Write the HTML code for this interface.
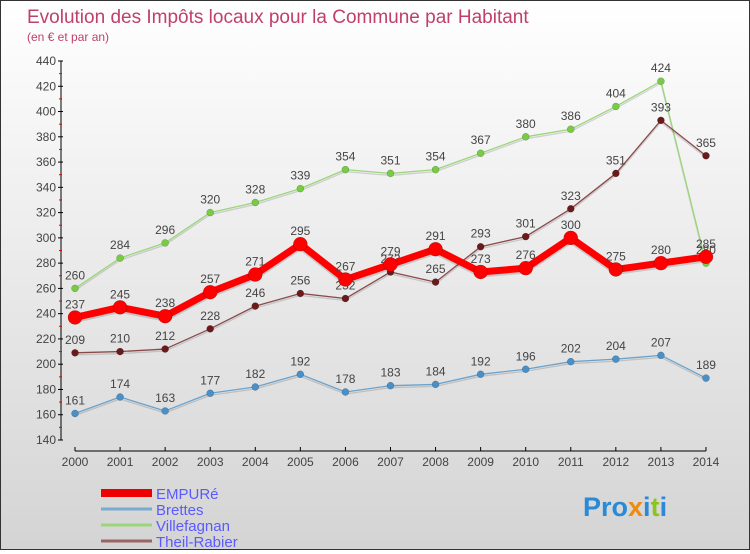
<!DOCTYPE html>
<html><head><meta charset="utf-8"><style>
body{margin:0;width:750px;height:550px;overflow:hidden;font-family:"Liberation Sans",sans-serif}
#c{position:absolute;left:0;top:0;width:748px;height:548px;border:1px solid #333;background:linear-gradient(#fff,#d4d4d4)}
</style></head><body>
<div id="c">
<svg id="s" width="748" height="548" xmlns="http://www.w3.org/2000/svg"></svg>
</div>
<script>
const years=[2000,2001,2002,2003,2004,2005,2006,2007,2008,2009,2010,2011,2012,2013,2014];
const empure=[237,245,238,257,271,295,267,279,291,273,276,300,275,280,285];
const brettes=[161,174,163,177,182,192,178,183,184,192,196,202,204,207,189];
const villefagnan=[260,284,296,320,328,339,354,351,354,367,380,386,404,424,280];
const theil=[209,210,212,228,246,256,252,273,265,293,301,323,351,393,365];
const yTicks=[140,160,180,200,220,240,260,280,300,320,340,360,380,400,420,440];
const NS="http://www.w3.org/2000/svg";
const s=document.getElementById('s');
const X=i=>74+i*45.07;
const Y=v=>439-(v-140)*(379/300);
function el(t,a,p){const e=document.createElementNS(NS,t);for(const k in a)e.setAttribute(k,a[k]);(p||s).appendChild(e);return e;}
function tx(x,y,str,a){const e=el('text',Object.assign({x:x,y:y},a));e.textContent=str;return e;}
let t=tx(26,22,'Evolution des Impôts locaux pour la Commune par Habitant',{fill:'#c0406a','font-size':19});

t=tx(26,40,'(en € et par an)',{fill:'#c0406a','font-size':12});

// y axis
let ax=el('line',{x1:60,y1:Y(440),x2:60,y2:Y(140),stroke:'#000'});

yTicks.forEach((v,i)=>{el('line',{x1:57,x2:62,y1:Y(v),y2:Y(v),stroke:'#000'});
 if(i<yTicks.length-1)el('line',{x1:58,x2:61,y1:Y(v+10),y2:Y(v+10),stroke:'#e00'});
 const l=tx(55,Y(v)+4,v,{fill:'#444','font-size':12,'text-anchor':'end'});
 });
ax=el('line',{x1:X(0),y1:450,x2:X(14),y2:450,stroke:'#000'});

years.forEach((y,i)=>{el('line',{x1:X(i),x2:X(i),y1:446,y2:450,stroke:'#000'});
 const l=tx(X(i),465,y,{fill:'#444','font-size':12,'text-anchor':'middle'});
 });
function series(d,col,dot,w,r,name){
 const g=el('g',{});
 el('polyline',{points:d.map((v,i)=>X(i)+','+(Y(v)+2)).join(' '),fill:'none',stroke:'rgba(0,0,0,0.15)','stroke-width':w},g);
 el('polyline',{points:d.map((v,i)=>X(i)+','+Y(v)).join(' '),fill:'none',stroke:col,'stroke-width':w,'stroke-linejoin':'round'},g);
 d.forEach((v,i)=>{const c=el('circle',{cx:X(i),cy:Y(v),r:r,fill:dot,stroke:'rgba(0,0,0,0.3)','stroke-width':0.5},g);
  
  const l=tx(X(i),Y(v)-9,v,{fill:'#444','font-size':12,'text-anchor':'middle'},g);
  });
}
series(brettes,'#6aa2cc','#4a90c8',1.3,3.5,'brettes');
series(villefagnan,'#9bd67a','#78cc44',1.3,3.5,'villefagnan');
series(theil,'#8a4a4a','#6a1a1a',1.3,3.5,'theil-rabier');
series(empure,'#f00','#f00',7,7,'empure');
// legend
const leg=[['EMPURé','#e00',8],['Brettes','#7aaad0',3],['Villefagnan','#9cd67c',3],['Theil-Rabier','#9a6464',3]];
leg.forEach((e,i)=>{const g=el('g',{});
 const y=492+i*16;el('line',{x1:100,x2:151,y1:y,y2:y,stroke:e[1],'stroke-width':e[2]},g);
 tx(155,y+6,e[0],{fill:'#5a5aff','font-size':15},g);});
// logo
const lg=el('text',{x:582,y:515,'font-size':27,'font-weight':'bold'});

[['Pro','#2a8ad8'],['x','#f08a10'],['i','#2a8ad8'],['t','#8ac420'],['i','#2a8ad8']].forEach(p=>{const ts=el('tspan',{fill:p[1]},lg);ts.textContent=p[0];});
</script>
</body></html>
